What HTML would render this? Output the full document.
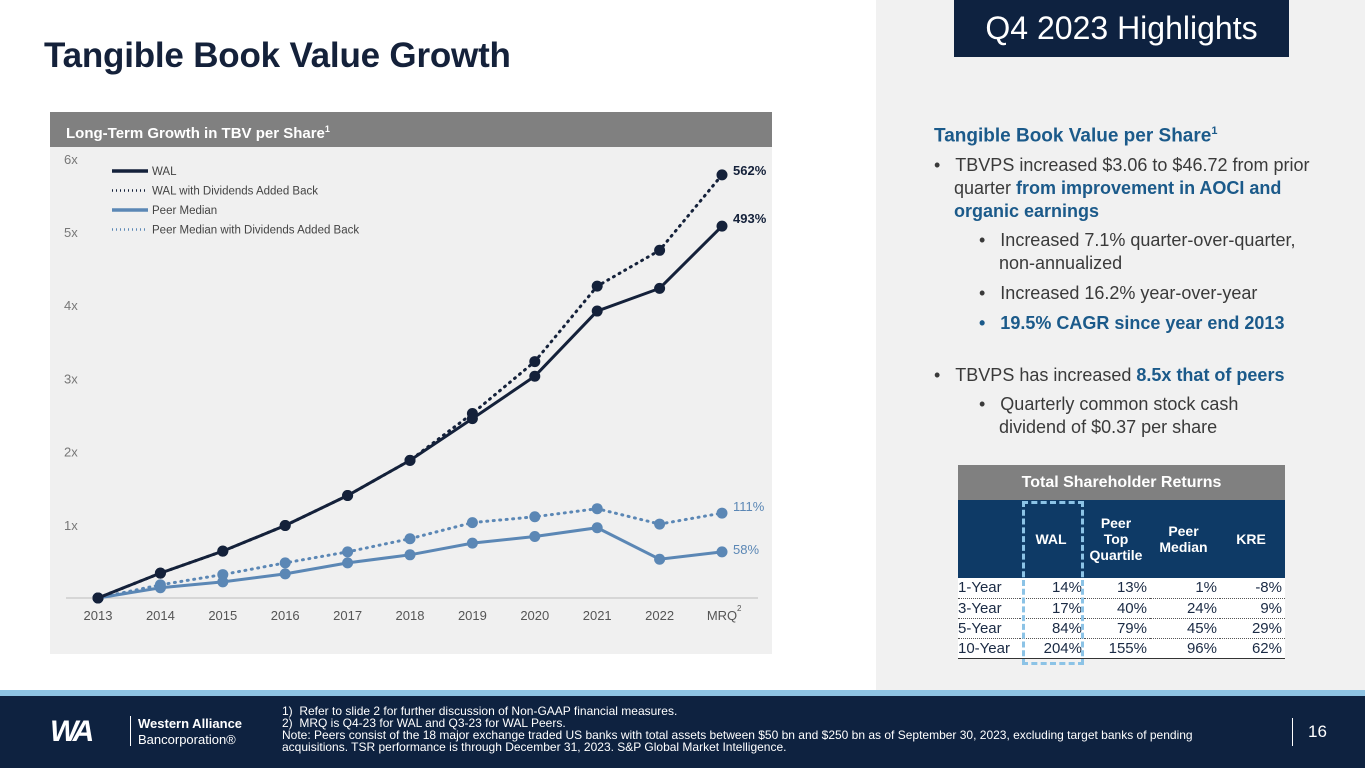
<!DOCTYPE html>
<html><head><meta charset="utf-8"><style>
*{margin:0;padding:0;box-sizing:border-box}
body{width:1365px;height:768px;position:relative;overflow:hidden;background:#fff;font-family:"Liberation Sans",sans-serif}
.abs{position:absolute}
.b{color:#1b5a8a;font-weight:bold}
.rt{font-size:18px;color:#3a3a3a;line-height:23px}
table{border-collapse:collapse}
td{padding-right:3px}
</style></head><body>
<div class="abs" style="left:876px;top:0;width:489px;height:690px;background:#f1f1f1"></div>
<div class="abs" style="left:44px;top:36px;font-size:35px;font-weight:bold;color:#14213a;letter-spacing:-0.2px">Tangible Book Value Growth</div>
<div class="abs" style="left:954px;top:0;width:335px;height:57px;background:#0e2240;color:#fff;font-size:32px;text-align:center;line-height:56px">Q4 2023 Highlights</div>

<div class="abs" style="left:50px;top:112px;width:722px;height:35px;background:#808080;color:#fff;font-size:15px;font-weight:bold;line-height:35px;padding-left:16px">Long-Term Growth in TBV per Share<sup style="font-size:9px">1</sup></div>
<div class="abs" style="left:50px;top:147px;width:722px;height:507px;background:#f0f0f0"></div>
<svg class="abs" id="chart" style="left:0;top:0" width="876" height="690"></svg>

<div class="abs rt" style="left:934px;top:120px;width:385px">
<div class="b" style="font-size:19px;margin-bottom:7px">Tangible Book Value per Share<sup style="font-size:11px">1</sup></div>
<div style="padding-left:20px;text-indent:-20px">•&nbsp;&nbsp;&nbsp;TBVPS increased $3.06 to $46.72 from prior quarter <span class="b">from improvement in AOCI and organic earnings</span></div>
<div style="padding-left:65px;text-indent:-20px;margin-top:6px">•&nbsp;&nbsp;&nbsp;Increased 7.1% quarter-over-quarter, non-annualized</div>
<div style="padding-left:65px;text-indent:-20px;margin-top:7px">•&nbsp;&nbsp;&nbsp;Increased 16.2% year-over-year</div>
<div class="b" style="padding-left:65px;text-indent:-20px;margin-top:7px">•&nbsp;&nbsp;&nbsp;19.5% CAGR since year end 2013</div>
<div style="padding-left:20px;text-indent:-20px;margin-top:29px">•&nbsp;&nbsp;&nbsp;TBVPS has increased <span class="b">8.5x that of peers</span></div>
<div style="padding-left:65px;text-indent:-20px;margin-top:6px;width:340px">•&nbsp;&nbsp;&nbsp;Quarterly common stock cash dividend of $0.37 per share</div>
</div>

<div class="abs" style="left:958px;top:465px;width:327px">
<div style="height:35px;background:#808080;color:#fff;font-size:16px;font-weight:bold;text-align:center;line-height:36px">Total Shareholder Returns</div>
<table style="width:327px;font-size:15px;color:#1a2a44">
<tr style="background:#0e3a66;color:#fff;font-weight:bold;height:78px;text-align:center;font-size:14px"><td style="width:62px"></td><td style="width:65px">WAL</td><td style="width:65px">Peer<br>Top<br>Quartile</td><td style="width:70px">Peer<br>Median</td><td>KRE</td></tr>
<tr style="height:20px;background:#fff;border-bottom:1px dotted #555;text-align:right"><td style="text-align:left">1-Year</td><td>14%</td><td>13%</td><td>1%</td><td>-8%</td></tr>
<tr style="height:20px;background:#fff;border-bottom:1px dotted #555;text-align:right"><td style="text-align:left">3-Year</td><td>17%</td><td>40%</td><td>24%</td><td>9%</td></tr>
<tr style="height:20px;background:#fff;border-bottom:1px dotted #555;text-align:right"><td style="text-align:left">5-Year</td><td>84%</td><td>79%</td><td>45%</td><td>29%</td></tr>
<tr style="height:20px;background:#fff;border-bottom:1px solid #333;text-align:right"><td style="text-align:left">10-Year</td><td>204%</td><td>155%</td><td>96%</td><td>62%</td></tr>
</table>
</div>
<div class="abs" style="left:1022px;top:501px;width:62px;height:164px;border:3px dashed #8cc3e6"></div>

<div class="abs" style="left:0;top:690px;width:1365px;height:6px;background:#8ec3e3"></div>
<div class="abs" style="left:0;top:696px;width:1365px;height:72px;background:#0e2240"></div>
<div class="abs" style="left:50px;top:715px;color:#fff;font-size:30px;font-weight:bold;font-style:italic;letter-spacing:-4px">WA</div>
<div class="abs" style="left:130px;top:716px;width:1px;height:30px;background:#fff"></div>
<div class="abs" style="left:138px;top:716px;color:#fff;font-size:13px;line-height:16px"><b>Western Alliance</b><br>Bancorporation®</div>
<div class="abs" style="left:282px;top:705px;color:#fff;font-size:12px;line-height:12px;width:955px">1)&nbsp;&nbsp;Refer to slide 2 for further discussion of Non-GAAP financial measures.<br>2)&nbsp;&nbsp;MRQ is Q4-23 for WAL and Q3-23 for WAL Peers.<br>Note: Peers consist of the 18 major exchange traded US banks with total assets between $50 bn and $250 bn as of September 30, 2023, excluding target banks of pending acquisitions. TSR performance is through December 31, 2023. S&amp;P Global Market Intelligence.</div>
<div class="abs" style="left:1292px;top:718px;width:1px;height:28px;background:#fff"></div>
<div class="abs" style="left:1308px;top:722px;color:#fff;font-size:17px">16</div>

<script>
const categories=["2013","2014","2015","2016","2017","2018","2019","2020","2021","2022","MRQ"];
const walValues=[0,0.34,0.64,0.99,1.40,1.88,2.45,3.03,3.92,4.23,5.08];
const walDivValues=[0,0.34,0.64,0.99,1.40,1.88,2.52,3.23,4.26,4.75,5.78];
const peerValues=[0,0.14,0.22,0.33,0.48,0.59,0.75,0.84,0.96,0.53,0.63];
const peerDivValues=[0,0.18,0.32,0.48,0.63,0.81,1.03,1.11,1.22,1.01,1.16];
const yTicks=[1,2,3,4,5,6];
const endLabels=["493%","562%","58%","111%"];
const svg=document.getElementById('chart');
const NS='http://www.w3.org/2000/svg';
const x=i=>98+i*62.4;
const y=v=>598-v*73.2;
function mk(t,a){const e=document.createElementNS(NS,t);for(const k in a)e.setAttribute(k,a[k]);svg.appendChild(e);return e;}
const axis=mk('line',{x1:66,x2:758,y1:598,y2:598,stroke:'#bbb','stroke-width':1});


yTicks.forEach(t=>{const e=mk('text',{x:64,y:y(t)+5,'font-size':13,fill:'#777'});e.textContent=t+'x';

});
categories.forEach((c,i)=>{const e=mk('text',{x:x(i),y:620,'font-size':13,fill:'#555','text-anchor':'middle'});e.textContent=c;

});
const sup=mk('text',{x:737,y:611,'font-size':8,fill:'#555'});sup.textContent='2';


const series=[[peerDivValues,'#5b87b5','1 5.5',3,'peer-median-dividends-line'],[peerValues,'#5b87b5','',3,'peer-median-line'],[walDivValues,'#14213a','1 5.5',3,'wal-dividends-line'],[walValues,'#14213a','',3,'wal-line']];
series.forEach(s=>{
 const p=mk('polyline',{points:s[0].map((v,i)=>x(i)+','+y(v)).join(' '),fill:'none',stroke:s[1],'stroke-width':s[3],'stroke-dasharray':s[2],'stroke-linecap':'round'});
 
 
 s[0].forEach((v,i)=>{const c=mk('circle',{cx:x(i),cy:y(v),r:5.5,fill:s[1]});
 
 });
});
const lab=[[walValues,'#14213a',true],[walDivValues,'#14213a',true],[peerValues,'#5b87b5',false],[peerDivValues,'#5b87b5',false]];
lab.forEach((l,k)=>{const v=l[0][10];const e=mk('text',{x:733,y:y(v)+(k===0?-3:k===1?0:k===2?2:-2),'font-size':13,fill:l[1],'font-weight':l[2]?'bold':'normal'});e.textContent=endLabels[k];

});
const leg=[['WAL','#14213a',''],['WAL with Dividends Added Back','#14213a','1 3'],['Peer Median','#5b87b5',''],['Peer Median with Dividends Added Back','#5b87b5','1 3']];
leg.forEach((l,i)=>{const yy=171+i*19.5;
 const ln=mk('line',{x1:112,x2:148,y1:yy,y2:yy,stroke:l[1],'stroke-width':l[2]?2.5:3.5,'stroke-dasharray':l[2]});
 
 
 const t=mk('text',{x:152,y:yy+4,'font-size':11.5,fill:'#444'});t.textContent=l[0];
 
 });
</script>
</body></html>
